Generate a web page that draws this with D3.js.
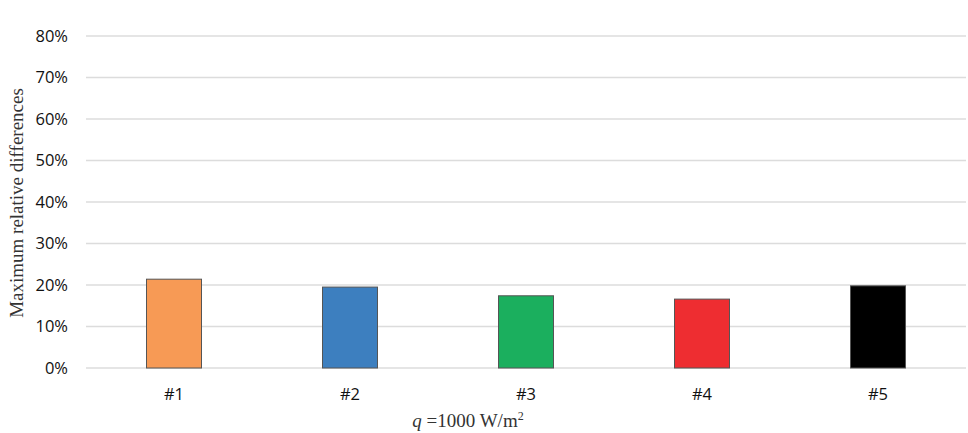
<!DOCTYPE html>
<html><head><meta charset="utf-8">
<script src="https://cdn.jsdelivr.net/npm/d3@7"></script>
<style>body{margin:0;background:#fff}</style>
</head><body><svg id="c" width="968" height="433"></svg>
<script>
const categories = ["#1","#2","#3","#4","#5"];
const values = [0.214, 0.195, 0.174, 0.166, 0.198];
const colors = ["#F79A55","#3D7FBF","#1BAF5E","#EE2D31","#000000"];
const yTicks = [0,0.1,0.2,0.3,0.4,0.5,0.6,0.7,0.8];

const svg = d3.select("#c");
const m = {l:86, r:2, t:36, b:65};
const W = 968, H = 433;
const x = d3.scaleBand().domain(categories).range([m.l, W-m.r]).padding(0);
const y = d3.scaleLinear().domain([0,0.8]).range([H-m.b, m.t]);

svg.append("g").selectAll("line").data(yTicks).join("line")
  .attr("x1", m.l).attr("x2", W-m.r)
  .attr("y1", d=>y(d)).attr("y2", d=>y(d))
  .attr("stroke", "#dcdcdc").attr("stroke-width", 1.3);

svg.append("g").selectAll("text").data(yTicks).join("text")
  .attr("x", 68).attr("y", d=>y(d)).attr("dy","0.36em")
  .attr("text-anchor","end")
  .attr("font-family","Open Sans, sans-serif").attr("font-size",16.5).attr("fill","#111")
  .text(d=>d3.format(".0%")(d));

const bw = x.bandwidth()*0.3125;
svg.append("g").selectAll("rect").data(values).join("rect")
  .attr("x",(d,i)=>x(categories[i])+x.bandwidth()/2-bw/2)
  .attr("width",bw)
  .attr("y",d=>y(d)).attr("height",d=>y(0)-y(d))
  .attr("fill",(d,i)=>colors[i])
  .attr("stroke","#555").attr("stroke-width",1);

svg.append("g").selectAll("text").data(categories).join("text")
  .attr("x",d=>x(d)+x.bandwidth()/2).attr("y",399.5)
  .attr("text-anchor","middle")
  .attr("font-family","Open Sans, sans-serif").attr("font-size",16.5).attr("fill","#111")
  .text(d=>d);

svg.append("text")
  .attr("transform","translate(23,203) rotate(-90)")
  .attr("text-anchor","middle")
  .attr("font-family","Liberation Serif, Times New Roman, serif").attr("font-size",19).attr("fill","#333")
  .text("Maximum relative differences");

const xt = svg.append("text").attr("x",468).attr("y",427).attr("text-anchor","middle")
  .attr("font-family","Liberation Serif, Times New Roman, serif").attr("font-size",19).attr("fill","#333");
xt.append("tspan").attr("font-style","italic").text("q");
xt.append("tspan").text(" =1000 W/m");
xt.append("tspan").attr("font-size",12).attr("dy",-7).text("2");
</script></body></html>
